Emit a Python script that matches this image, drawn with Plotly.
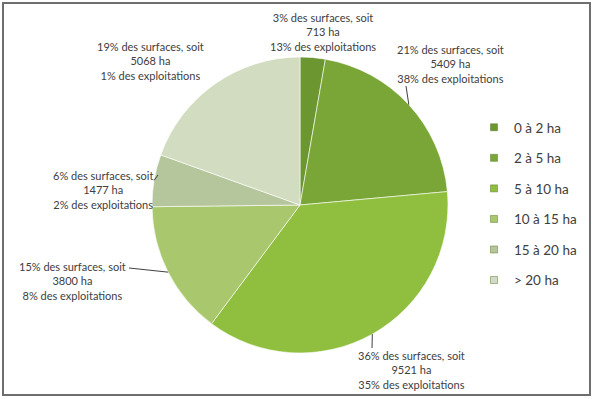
import math
import plotly.graph_objects as go

categories = ["0 à 2 ha", "2 à 5 ha", "5 à 10 ha", "10 à 15 ha", "15 à 20 ha", "> 20 ha"]
surfaces_ha = [713, 5409, 9521, 3800, 1477, 5068]
pct_surfaces = [3, 21, 36, 15, 6, 19]
pct_exploitations = [13, 38, 35, 8, 2, 1]
colors = ["#6c9630", "#7aa638", "#90bf3f", "#a9c86e", "#b6c69c", "#d2dcc0"]

W, H = 593, 399
CX, CY, R = 300, 205, 148  # pixel geometry of the pie

# label anchor positions (pixels) and leader-line start points
label_pos = [(323, 32), (450, 64), (411, 370), (72, 281), (103, 190), (150, 61)]
leader_start = [None, (406, 86), (372, 348), (129, 268), (158, 175), None]

fig = go.Figure()
fig.add_trace(go.Pie(
    labels=categories, values=surfaces_ha, sort=False, direction="clockwise",
    rotation=0, textinfo="none", hoverinfo="label+value+percent",
    marker=dict(colors=colors, line=dict(color="rgba(255,255,255,0.6)", width=1)),
    showlegend=False,
    domain=dict(x=[(CX - R) / W, (CX + R) / W], y=[(H - CY - R) / H, (H - CY + R) / H]),
))

# legend via dummy traces
for i, (c, col) in enumerate(zip(categories, colors)):
    fig.add_trace(go.Scatter(
        x=[None], y=[None], mode="markers", name=c, legendgroup=f"g{i}",
        marker=dict(symbol="square", size=7, color=col, line=dict(color="#5a7a2a", width=0.5)),
    ))

def px(x, y):
    return x / W, 1 - y / H

total = sum(surfaces_ha)
cum = 0
shapes = [dict(type="rect", xref="paper", yref="paper", x0=px(3, 0)[0], x1=px(590, 0)[0],
               y0=px(0, 395)[1], y1=px(0, 3)[1], line=dict(color="#6e6e6e", width=2))]
annotations = []
for i, v in enumerate(surfaces_ha):
    mid = (cum + v / 2) / total * 2 * math.pi
    cum += v
    ex = CX + R * math.sin(mid)
    ey = CY - R * math.cos(mid)
    if leader_start[i] is not None:
        sx, sy = leader_start[i]
        x0, y0 = px(sx, sy)
        x1, y1 = px(ex, ey)
        shapes.append(dict(type="line", xref="paper", yref="paper", x0=x0, y0=y0, x1=x1, y1=y1,
                           line=dict(color="#404040", width=1)))
    lx, ly = px(*label_pos[i])
    text = (f"{pct_surfaces[i]}% des surfaces, soit<br>{surfaces_ha[i]} ha<br>"
            f"{pct_exploitations[i]}% des exploitations")
    annotations.append(dict(x=lx, y=ly, xref="paper", yref="paper", text=text, showarrow=False,
                            xanchor="center", yanchor="middle", align="center",
                            font=dict(size=11, color="#404040", family="Lato")))

fig.update_layout(
    width=W, height=H, margin=dict(l=0, r=0, t=0, b=0),
    paper_bgcolor="white", plot_bgcolor="white",
    xaxis=dict(visible=False), yaxis=dict(visible=False),
    shapes=shapes, annotations=annotations,
    legend=dict(x=px(474, 0)[0], y=px(0, 112)[1], xanchor="left", yanchor="top",
                font=dict(size=13.5, color="#404040", family="Lato"),
                tracegroupgap=10, itemwidth=30, bgcolor="rgba(0,0,0,0)"),
    showlegend=True,
)

fig.write_html("out.html")
